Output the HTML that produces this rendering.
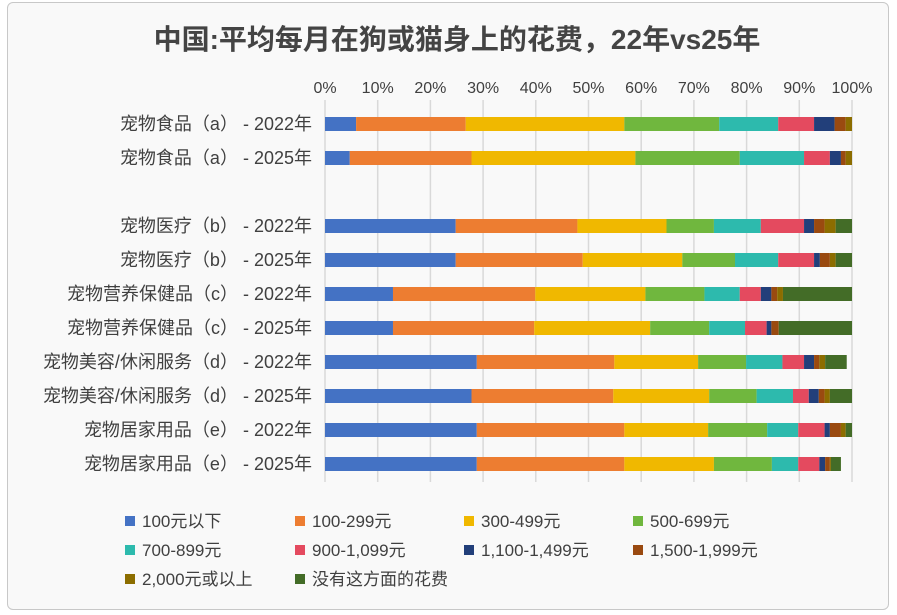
<!DOCTYPE html>
<html><head><meta charset="utf-8"><style>
body{margin:0;background:#fff;width:897px;height:615px;overflow:hidden;font-family:"Liberation Sans","Noto Sans CJK SC",sans-serif;}
#frame{position:absolute;left:7px;top:2px;width:880px;height:606px;border:1.5px solid #c8c8c8;border-radius:6px;background:#f9f9f9;}
</style></head><body>
<div id="frame"></div>
<svg id="chart" width="897" height="615" style="position:absolute;left:0;top:0"></svg>
<script>
const categories=["宠物食品（a） - 2022年","宠物食品（a） - 2025年","","宠物医疗（b） - 2022年","宠物医疗（b） - 2025年","宠物营养保健品（c） - 2022年","宠物营养保健品（c） - 2025年","宠物美容/休闲服务（d） - 2022年","宠物美容/休闲服务（d） - 2025年","宠物居家用品（e） - 2022年","宠物居家用品（e） - 2025年"];
const seriesNames=["100元以下","100-299元","300-499元","500-699元","700-899元","900-1,099元","1,100-1,499元","1,500-1,999元","2,000元或以上","没有这方面的花费"];
const s0=[5.9,4.7,null,24.8,24.8,12.9,12.9,28.8,27.8,28.8,28.8];
const s1=[20.8,23.1,null,23.1,24.1,27.0,26.8,26.1,26.9,28.0,28.0];
const s2=[30.1,31.1,null,16.9,18.9,20.9,22.0,15.9,18.2,15.9,17.0];
const s3=[18.0,19.8,null,9.0,10.0,11.2,11.2,9.1,9.0,11.2,11.0];
const s4=[11.2,12.2,null,8.9,8.2,6.7,6.8,6.9,6.9,5.9,5.0];
const s5=[6.8,4.9,null,8.2,6.8,4.0,4.1,4.1,3.0,5.0,4.0];
const s6=[3.9,2.1,null,1.9,1.1,2.0,0.9,1.9,1.9,1.0,1.1];
const s7=[2.1,0.9,null,2.0,1.9,1.1,1.4,1.0,1.1,2.1,0.9];
const s8=[1.2,1.2,null,2.1,1.1,1.1,0,1.1,1.0,0.9,0.2];
const s9=[0,0,null,3.1,3.1,13.1,13.9,4.1,4.2,1.2,1.9];
const series=[s0,s1,s2,s3,s4,s5,s6,s7,s8,s9];
const tickLabels=["0%","10%","20%","30%","40%","50%","60%","70%","80%","90%","100%"];
const colors=["#4472c4","#ed7d31","#f0b800","#70b73e","#2dbaad","#e44a5f","#223f7a","#9a4a10","#8c6d00","#436c27"];
const svg=document.getElementById('chart');const NS="http://www.w3.org/2000/svg";
const X0=325,X1=852,Y0=107,step=34,bh=14;
const x=v=>X0+(X1-X0)*v/100;
const y=i=>Y0+step*i+17;
function mk(t,a){const e=document.createElementNS(NS,t);for(const k in a)e.setAttribute(k,a[k]);svg.appendChild(e);return e;}
const title=mk('text',{x:457,y:49,'text-anchor':'middle','font-size':28,'font-weight':'bold',fill:'#444'});
title.textContent="中国:平均每月在狗或猫身上的花费，22年vs25年";


tickLabels.forEach((t,i)=>{const v=i*10;
 const g=mk('line',{x1:x(v),x2:x(v),y1:100,y2:482,stroke:'#d9d9d9','stroke-width':1.5});
 
 
 const l=mk('text',{x:x(v),y:93,'text-anchor':'middle','font-size':16,fill:'#404040'});l.textContent=t;
 
 
});
categories.forEach((c,i)=>{
 if(c){const l=mk('text',{x:312,y:y(i)+6,'text-anchor':'end','font-size':18,fill:'#404040'});l.textContent=c;
 
 }
 let acc=0;
 series.forEach((s,k)=>{const v=s[i];if(v==null)return;
  const r=mk('rect',{x:x(acc),y:y(i)-bh/2,width:Math.max(0,x(acc+v)-x(acc)),height:bh,fill:colors[k]});
  
  
  acc+=v;});
});
seriesNames.forEach((n,k)=>{const cy=[521,550,579][Math.floor(k/4)];
 const colx=[125,295,464,633][k%4];
 const r=mk('rect',{x:colx,y:cy-5,width:10,height:10,fill:colors[k]});
 
 
 const t=mk('text',{x:colx+17,y:cy+6,'font-size':17,fill:'#404040'});t.textContent=n;
 
 
});
</script>
</body></html>
